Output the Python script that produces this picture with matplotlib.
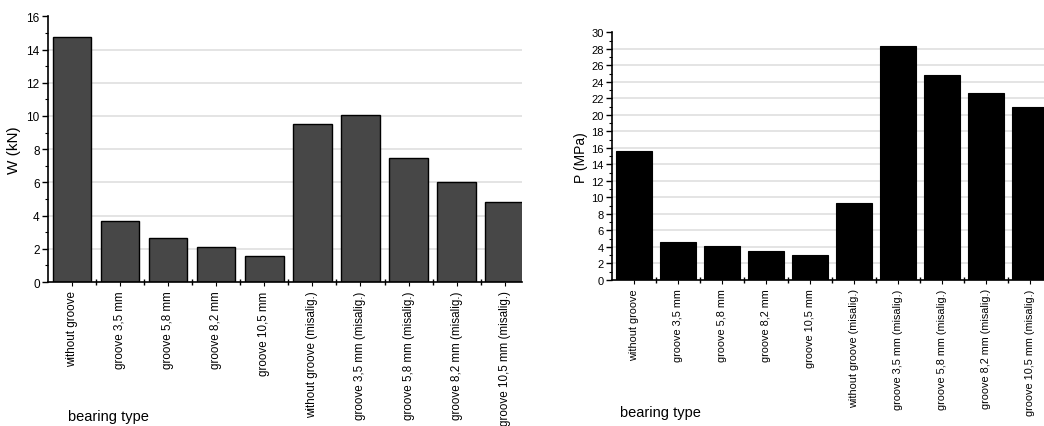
import matplotlib.pyplot as plt
import numpy as np
from matplotlib.ticker import MultipleLocator, FixedLocator

plt.rcParams['font.family'] = ['Liberation Sans', 'DejaVu Sans']

bearing_types = ["without groove", "groove 3,5 mm", "groove 5,8 mm", "groove 8,2 mm",
                 "groove 10,5 mm", "without groove (misalig.)", "groove 3,5 mm (misalig.)",
                 "groove 5,8 mm (misalig.)", "groove 8,2 mm (misalig.)",
                 "groove 10,5 mm (misalig.)"]
load_w = [14.77, 3.65, 2.66, 2.08, 1.58, 9.52, 10.07, 7.47, 6.05, 4.81]
pressure_p = [15.6, 4.65, 4.08, 3.55, 3.03, 9.3, 28.4, 24.8, 22.7, 20.9]

fig = plt.figure(figsize=(10.44, 4.27), dpi=100)
x = np.arange(len(bearing_types))


def style_axes(ax, ymax, ystep, tick_fs, ytick_fs, xright):
    ax.set_xlim(-0.5, xright)
    ax.set_ylim(0, ymax)
    for s in ['top', 'right']:
        ax.spines[s].set_visible(False)
    for s in ['left', 'bottom']:
        ax.spines[s].set_linewidth(1.2)
    ax.yaxis.set_major_locator(MultipleLocator(ystep))
    ax.yaxis.set_minor_locator(MultipleLocator(ystep / 2))
    ax.xaxis.set_major_locator(FixedLocator(x))
    ax.xaxis.set_minor_locator(FixedLocator(x[:-1] + 0.5))
    ax.set_xticklabels(bearing_types, rotation=90, fontsize=tick_fs)
    ax.tick_params(axis='y', which='major', direction='out', length=4, width=1, labelsize=ytick_fs, pad=2)
    ax.tick_params(axis='y', which='minor', direction='out', length=2, width=0.8)
    ax.tick_params(axis='x', which='major', direction='out', length=3, width=0.8, pad=3)
    ax.tick_params(axis='x', which='minor', direction='inout', length=5, width=1)
    for v in np.arange(ystep, ymax, ystep):
        ax.axhline(v, color='#e4e4e4', lw=1.4, zorder=0)


ax1 = fig.add_axes([48 / 1044, 144 / 427, 474 / 1044, 265.7 / 427])
ax1.bar(x, load_w, width=0.8, color='#474747', edgecolor='black', linewidth=1, zorder=2)
style_axes(ax1, 16, 2, 8.4, 8.5, 9.36)
ax1.set_ylabel("W (kN)", fontsize=11, labelpad=4)

ax2 = fig.add_axes([612 / 1044, 146 / 427, 432 / 1044, 247.7 / 427])
ax2.bar(x, pressure_p, width=0.82, color='black', edgecolor='black', linewidth=0.8, zorder=2)
style_axes(ax2, 30, 2, 7.8, 8, 9.32)
ax2.set_ylabel("P (MPa)", fontsize=10, labelpad=2)

fig.text(68 / 1044, 1 - 417 / 427, "bearing type", fontsize=10.5, va='center')
fig.text(620 / 1044, 1 - 413 / 427, "bearing type", fontsize=10.5, va='center')

fig.savefig("out.png", dpi=100)
